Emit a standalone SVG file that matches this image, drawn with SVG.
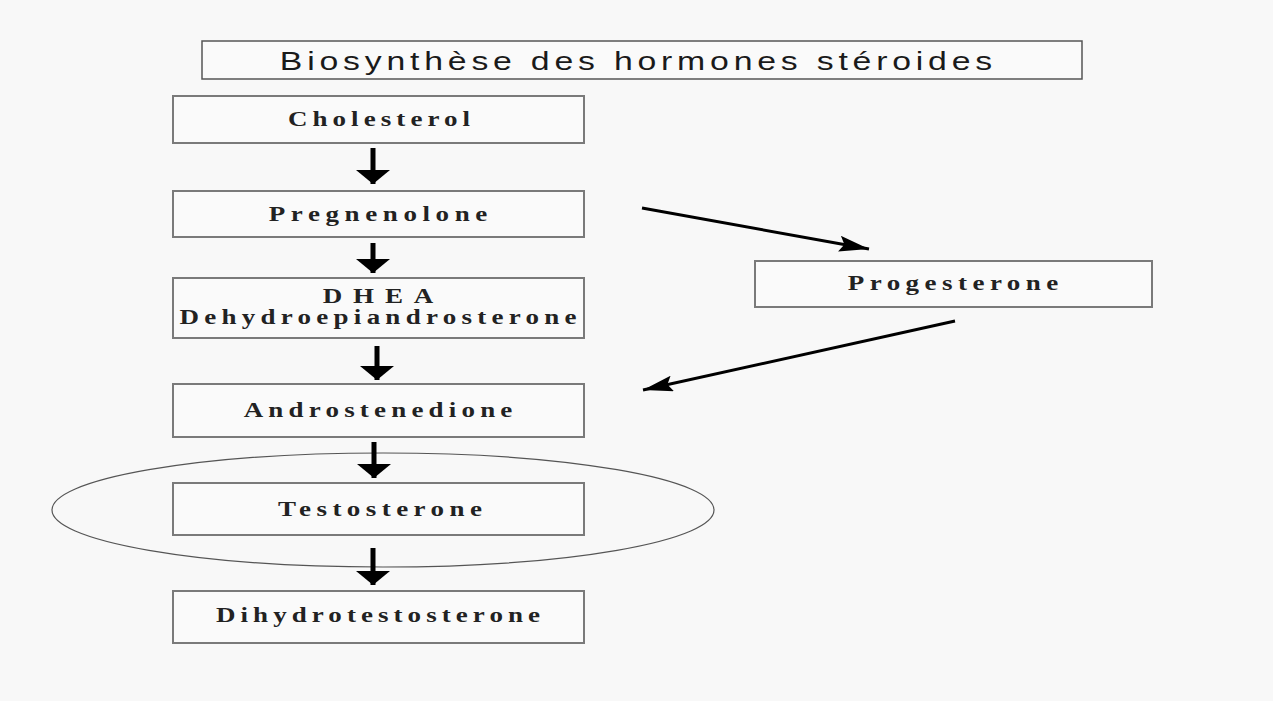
<svg xmlns="http://www.w3.org/2000/svg" width="1273" height="701" viewBox="0 0 1273 701">
<style>
.box{fill:#fafafa;stroke:#7a7a7a;stroke-width:2}
.title{fill:#fafafa;stroke:#555;stroke-width:1.5}
.lbl{font-family:"Liberation Serif","Times New Roman",serif;font-weight:bold;font-size:20px;fill:#222;text-anchor:middle}
.ttl{font-family:"Liberation Sans",Arial,sans-serif;font-size:26px;fill:#1a1a1a;text-anchor:middle}
.v{stroke:#000;stroke-width:5;fill:none}
.d{stroke:#000;stroke-width:3;fill:none}
</style>
<defs>
<marker id="vh" markerUnits="userSpaceOnUse" viewBox="0 0 14 34" refX="14" refY="17" markerWidth="14" markerHeight="34" orient="auto"><path d="M0,0 L14,17 L0,34 Z" fill="#000"/></marker>
<marker id="dh" markerUnits="userSpaceOnUse" viewBox="0 0 30 16" refX="30" refY="8" markerWidth="30" markerHeight="16" orient="auto"><path d="M0,0 L30,8 L0,16 L5,8 Z" fill="#000"/></marker>
</defs>
<rect width="1273" height="701" fill="#f8f8f8"/>
<g id="title"><rect class="title" x="202" y="41" width="880" height="38"/><text class="ttl" transform="translate(636,70) scale(1.3,1)" x="0" y="0" textLength="548" lengthAdjust="spacing">Biosynthèse des hormones stéroides</text></g>
<ellipse id="highlight" cx="383" cy="510" rx="331" ry="57" fill="none" stroke="#555" stroke-width="1.2"/>
<g id="cholesterol"><rect class="box" x="173" y="96" width="411" height="47"/><text class="lbl" transform="translate(379,126) scale(1.35,1)" x="0" y="0" textLength="135" lengthAdjust="spacing">Cholesterol</text></g>
<g id="pregnenolone"><rect class="box" x="173" y="191" width="411" height="46"/><text class="lbl" transform="translate(378,221) scale(1.35,1)" x="0" y="0" textLength="162" lengthAdjust="spacing">Pregnenolone</text></g>
<g id="dhea"><rect class="box" x="173" y="278" width="411" height="60"/><text class="lbl" transform="translate(378,303) scale(1.35,1)" x="0" y="0" textLength="82" lengthAdjust="spacing">DHEA</text><text class="lbl" transform="translate(378,324) scale(1.35,1)" x="0" y="0" textLength="294" lengthAdjust="spacing">Dehydroepiandrosterone</text></g>
<g id="androstenedione"><rect class="box" x="173" y="384" width="411" height="53"/><text class="lbl" transform="translate(378,417) scale(1.35,1)" x="0" y="0" textLength="199" lengthAdjust="spacing">Androstenedione</text></g>
<g id="testosterone"><rect class="box" x="173" y="483" width="411" height="52"/><text class="lbl" transform="translate(380,516) scale(1.35,1)" x="0" y="0" textLength="151" lengthAdjust="spacing">Testosterone</text></g>
<g id="dihydrotestosterone"><rect class="box" x="173" y="591" width="411" height="52"/><text class="lbl" transform="translate(378,622) scale(1.35,1)" x="0" y="0" textLength="240" lengthAdjust="spacing">Dihydrotestosterone</text></g>
<g id="progesterone"><rect class="box" x="755" y="261" width="397" height="46"/><text class="lbl" transform="translate(953,290) scale(1.35,1)" x="0" y="0" textLength="156" lengthAdjust="spacing">Progesterone</text></g>
<g id="connectors">
<line class="v" x1="373" y1="148" x2="373" y2="184" marker-end="url(#vh)"/>
<line class="v" x1="373" y1="243" x2="373" y2="273" marker-end="url(#vh)"/>
<line class="v" x1="377" y1="346" x2="377" y2="380" marker-end="url(#vh)"/>
<line class="v" x1="374" y1="442" x2="374" y2="478" marker-end="url(#vh)"/>
<line class="v" x1="373" y1="548" x2="373" y2="585" marker-end="url(#vh)"/>
<line class="d" x1="642" y1="208" x2="869" y2="249" marker-end="url(#dh)"/>
<line class="d" x1="955" y1="321" x2="643" y2="390" marker-end="url(#dh)"/>
</g>
</svg>
